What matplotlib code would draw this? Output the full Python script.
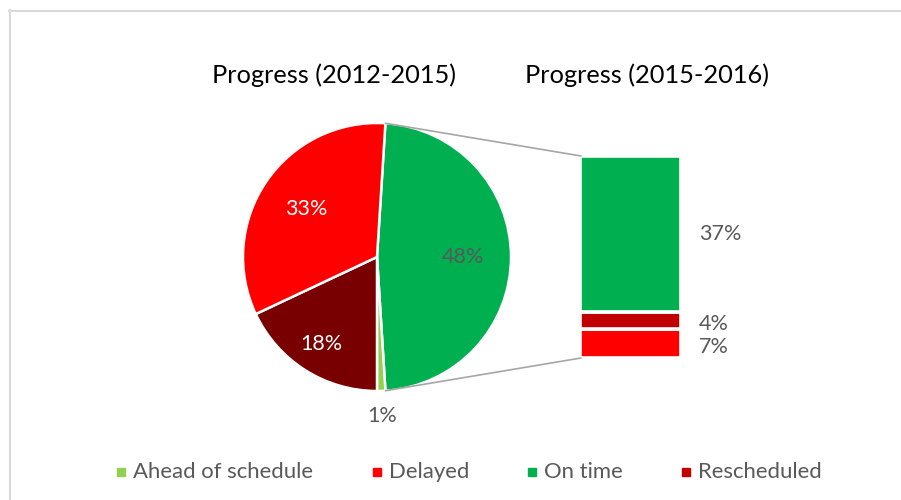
import numpy as np
import matplotlib
matplotlib.use("Agg")
import matplotlib.pyplot as plt
from matplotlib.patches import ConnectionPatch, Rectangle
from matplotlib.lines import Line2D

plt.rcParams['font.family'] = ['Lato', 'DejaVu Sans']

# ---- data ----
legend_labels = ["Ahead of schedule", "Delayed", "On time", "Rescheduled"]
legend_colors = ["#92D050", "#FF0000", "#00B050", "#C00000"]

pie_labels = ["On time", "Ahead of schedule", "Rescheduled", "Delayed"]
pie_values = [48, 1, 18, 33]
pie_colors = ["#00B050", "#92D050", "#780000", "#FF0000"]
pie_text_colors = ["#595959", "#595959", "white", "white"]
pie_label_dist = [0.64, 1.19, 0.77, 0.64]

bar_labels = ["Delayed", "Rescheduled", "On time"]   # bottom to top
bar_values = [7, 4, 37]
bar_colors = ["#FF0000", "#C00000", "#00B050"]

title_left = "Progress (2012-2015)"
title_right = "Progress (2015-2016)"

W, H = 901, 500
fig = plt.figure(figsize=(W / 100, H / 100), dpi=100)
fig.patch.set_facecolor("white")

def fx(px):
    return px / W

def fy(py):
    return 1 - py / H

# border
fig.add_artist(Line2D([fx(9.5), fx(9.5)], [fy(10), 0], color="#D9D9D9", lw=1.5))
fig.add_artist(Line2D([fx(9), 1], [fy(10.5), fy(10.5)], color="#D9D9D9", lw=1.5))

# ---- pie ----
cx, cy, r = 377, 257, 134
ax_pie = fig.add_axes([fx(cx - r), fy(cy + r), 2 * r / W, 2 * r / H])
start = 360 * pie_values[0] / sum(pie_values) / 2
wedges, _ = ax_pie.pie(pie_values, colors=pie_colors, startangle=start,
                       counterclock=False, radius=1,
                       wedgeprops=dict(edgecolor="white", linewidth=1.8))
for w, v, tc, d in zip(wedges, pie_values, pie_text_colors, pie_label_dist):
    mid = np.deg2rad((w.theta1 + w.theta2) / 2)
    ax_pie.text(d * np.cos(mid), d * np.sin(mid), f"{v}%", color=tc,
                fontsize=15.5, ha="center", va="center")
ax_pie.set_xlim(-1, 1)
ax_pie.set_ylim(-1, 1)
ax_pie.set_aspect("equal")
ax_pie.axis("off")

# ---- bar ----
bx0, bx1, by0, by1 = 580, 681, 156, 358
ax_bar = fig.add_axes([fx(bx0), fy(by1), (bx1 - bx0) / W, (by1 - by0) / H])
bottom = 0
label_dy = [-3, -2.5, 0]
for v, c, dy in zip(bar_values, bar_colors, label_dy):
    ax_bar.bar(0.5, v, width=1, bottom=bottom, color=c, edgecolor="white", linewidth=2.6)
    ax_bar.annotate(f"{v}%", xy=(1, bottom + v / 2), xytext=(13, dy),
                    textcoords="offset points", ha="left", va="center",
                    fontsize=15.5, color="#595959")
    bottom += v
ax_bar.set_xlim(0, 1)
ax_bar.set_ylim(0, bottom)
ax_bar.axis("off")

# connectors
ang = np.deg2rad(start)
for (px, py), yb in [((np.cos(ang), np.sin(ang)), bottom), ((np.cos(ang), -np.sin(ang)), 0)]:
    con = ConnectionPatch(xyA=(px, py), coordsA=ax_pie.transData,
                          xyB=(0.01, yb), coordsB=ax_bar.transData,
                          color="#A6A6A6", lw=1.2)
    fig.add_artist(con)

# titles
fig.text(fx(334), fy(75), title_left, fontsize=18.3, ha="center", va="center", color="black")
fig.text(fx(647), fy(75), title_right, fontsize=18.3, ha="center", va="center", color="black")

# legend
leg_x = [117, 373, 528, 682]
leg_y = 472
for x, lab, col in zip(leg_x, legend_labels, legend_colors):
    fig.add_artist(Rectangle((fx(x), fy(leg_y + 4)), 8 / W, 8 / H, color=col,
                             transform=fig.transFigure))
    fig.text(fx(x + 16), fy(leg_y), lab, fontsize=15.9, ha="left", va="center", color="#595959")

fig.savefig("out.png", dpi=100)
